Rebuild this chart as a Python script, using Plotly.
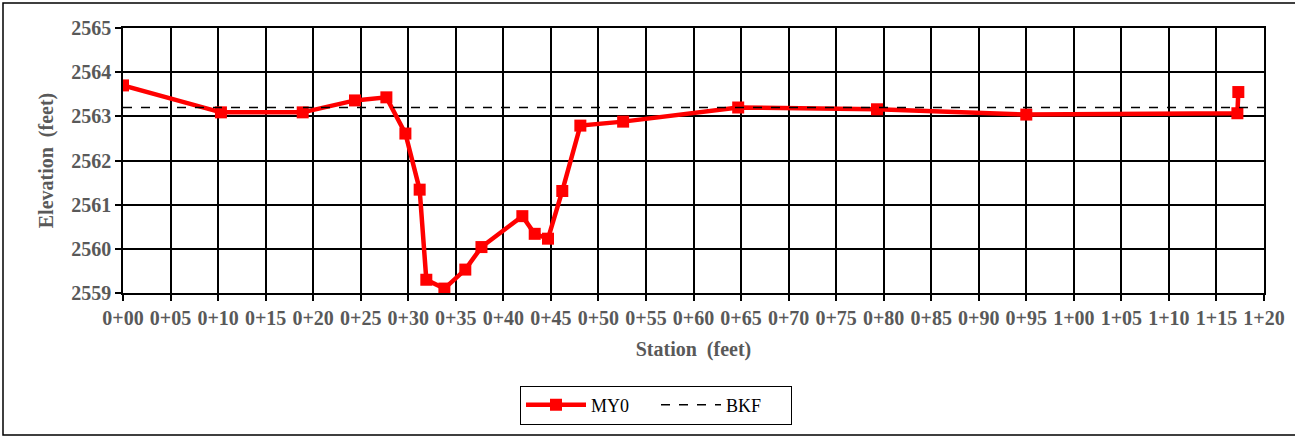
import plotly.graph_objects as go

# Data
station = [0.0, 10.3, 18.9, 24.4, 27.7, 29.7, 31.2, 31.9, 33.8, 36.0, 37.7,
           42.0, 43.3, 44.7, 46.2, 48.1, 52.6, 64.7, 79.3, 95.0, 117.2, 117.3]
elevation = [2563.70, 2563.09, 2563.09, 2563.36, 2563.43, 2562.61, 2561.34,
             2559.30, 2559.10, 2559.53, 2560.04, 2560.74, 2560.34, 2560.23,
             2561.31, 2562.79, 2562.88, 2563.20, 2563.16, 2563.04, 2563.07,
             2563.55]
bkf_station = [0, 120]
bkf_elev = [2563.2, 2563.2]

x_tickvals = list(range(0, 121, 5))
x_ticktext = [f"{v // 100}+{v % 100:02d}" for v in x_tickvals]
y_tickvals = [2559, 2560, 2561, 2562, 2563, 2564, 2565]

W, H = 1295, 436
ML, MR, MT, MB = 123, 31, 28, 143
pw = W - ML - MR
ph = H - MT - MB

def px_x(p):
    return (p - ML) / pw

def px_y(p):
    return (H - MB - p) / ph

fig = go.Figure()
fig.add_trace(go.Scatter(
    x=station, y=elevation, name="MY0", mode="lines+markers",
    line=dict(color="#ff0000", width=4.5),
    marker=dict(symbol="square", size=12, color="#ff0000"),
))
fig.add_trace(go.Scatter(
    x=bkf_station, y=bkf_elev, name="BKF", mode="lines",
    line=dict(color="black", width=1.5, dash="dash"),
))

tickfont = dict(family="Liberation Serif", size=20, color="#595959")
axis_common = dict(
    showgrid=True, gridcolor="black", gridwidth=1.5,
    showline=True, linecolor="black", linewidth=1.5, mirror=True,
    ticks="outside", ticklen=6, tickwidth=1.5, tickcolor="black",
    zeroline=False, tickfont=tickfont, automargin=False,
)

fig.update_xaxes(
    range=[0, 120], tickvals=x_tickvals,
    ticktext=[f"<b>{t}</b>" for t in x_ticktext],
    title=dict(text="<b>Station\u00a0 (feet)</b>",
               font=dict(family="Liberation Serif", size=20, color="#595959"),
               standoff=14),
    **axis_common,
)
fig.update_yaxes(
    range=[2559, 2565], tickvals=y_tickvals,
    ticktext=[f"<b>{v}</b>" for v in y_tickvals],
    title=dict(text="<b>Elevation\u00a0 (feet)</b>",
               font=dict(family="Liberation Serif", size=20, color="#595959"),
               standoff=12),
    **axis_common,
)

fig.update_layout(
    width=W, height=H,
    margin=dict(l=ML, r=MR, t=MT, b=MB, autoexpand=False),
    paper_bgcolor="white", plot_bgcolor="white",
    font=dict(family="Liberation Serif", color="black"),
    showlegend=True,
    legend=dict(
        orientation="h", x=px_x(656), xanchor="center",
        y=px_y(405), yanchor="middle",
        bordercolor="black", borderwidth=1, bgcolor="white",
        font=dict(family="Liberation Serif", size=18, color="black"),
        itemwidth=60, entrywidth=60,
    ),
    shapes=[dict(
        type="rect", xref="paper", yref="paper",
        x0=px_x(3), x1=px_x(1300), y0=px_y(435), y1=px_y(3),
        line=dict(color="black", width=1.5), fillcolor="rgba(0,0,0,0)",
        layer="below",
    )],
    annotations=[dict(
        text="<b>Riffle Type</b>", xref="paper", yref="paper",
        x=px_x(590), y=px_y(1), xanchor="center", yanchor="bottom",
        showarrow=False,
        font=dict(family="Liberation Serif", size=18, color="black"),
    )],
)

fig.write_html("out.html", config={"displayModeBar": False},
               post_script="document.body.style.margin='0';")
